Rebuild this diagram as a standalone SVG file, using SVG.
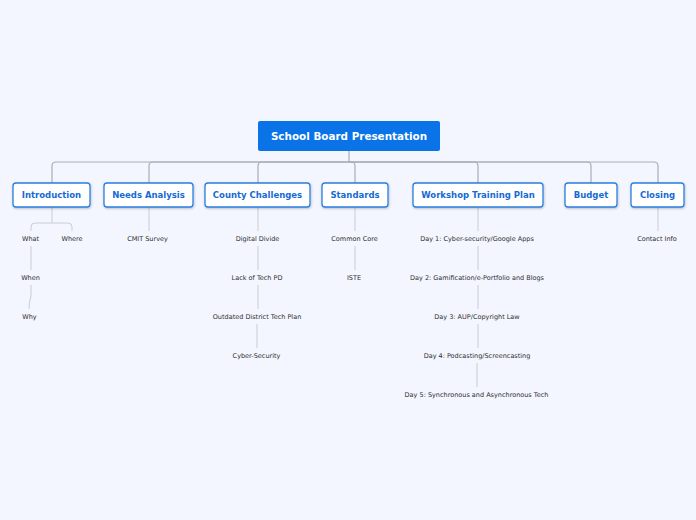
<svg xmlns="http://www.w3.org/2000/svg" width="696" height="520" viewBox="0 0 696 520">
<defs>
<style>
.bg{fill:#f3f6fe}
.root rect{fill:#0a73e8}
.root text{fill:#fff;font-family:"DejaVu Sans",sans-serif;font-weight:bold;font-size:10.4px;text-anchor:middle}
.main rect{fill:#fff;stroke:#2a7ee0;stroke-width:1.3}
.main text{fill:#166ad4;font-family:"DejaVu Sans",sans-serif;font-weight:bold;font-size:8.5px;text-anchor:middle}
.sub text{fill:#2e2e2e;font-family:"DejaVu Sans",sans-serif;font-size:6.5px;text-anchor:middle}
.c1{fill:none;stroke:#a9adb5;stroke-width:1.2}
.c2{fill:none;stroke:#c8ccd4;stroke-width:1}
</style>
<filter id="sh" x="-10%" y="-20%" width="130%" height="160%">
<feDropShadow dx="0.5" dy="1" stdDeviation="0.8" flood-color="#000" flood-opacity="0.25"/>
</filter>
</defs>
<rect class="bg" width="696" height="520"/>
<g id="connectors">
<path class="c1" d="M349,151V162H56Q52,162 52,166V183"/>
<path class="c1" d="M349,162H153Q149,162 149,166V183"/>
<path class="c1" d="M349,162H262Q258,162 258,166V183"/>
<path class="c1" d="M349,162H351Q355,162 355,166V183"/>
<path class="c1" d="M349,162H474Q478,162 478,166V183"/>
<path class="c1" d="M349,162H587Q591,162 591,166V183"/>
<path class="c1" d="M349,162H654Q658,162 658,166V183"/>
<path class="c2" d="M52,207V223H35Q31,223 31,227V231"/>
<path class="c2" d="M52,223H68Q72,223 72,227V231"/>
<path class="c2" d="M31,246V270"/>
<path class="c2" d="M31,285V296Q29,302 29,309"/>
<path class="c2" d="M149,207V231"/>
<path class="c2" d="M258,207V231"/>
<path class="c2" d="M258,246V270"/>
<path class="c2" d="M258,285V309"/>
<path class="c2" d="M257,324V348"/>
<path class="c2" d="M355,207V231"/>
<path class="c2" d="M355,246V270"/>
<path class="c2" d="M478,207V231"/>
<path class="c2" d="M478,246V270"/>
<path class="c2" d="M478,285V309"/>
<path class="c2" d="M478,324V348"/>
<path class="c2" d="M477,363V387"/>
<path class="c2" d="M658,207V231"/>
</g>
<g id="root" class="root"><rect x="258" y="121" width="182" height="30" rx="2"/><text x="349" y="139.6">School Board Presentation</text></g>
<g id="introduction" class="main"><rect x="13" y="183" width="77" height="24" rx="3" filter="url(#sh)"/><text x="51.5" y="198">Introduction</text></g>
<g id="needs-analysis" class="main"><rect x="104" y="183" width="89" height="24" rx="3" filter="url(#sh)"/><text x="148.5" y="198">Needs Analysis</text></g>
<g id="county-challenges" class="main"><rect x="205" y="183" width="105" height="24" rx="3" filter="url(#sh)"/><text x="257.5" y="198">County Challenges</text></g>
<g id="standards" class="main"><rect x="322" y="183" width="66" height="24" rx="3" filter="url(#sh)"/><text x="355" y="198">Standards</text></g>
<g id="workshop" class="main"><rect x="413" y="183" width="130" height="24" rx="3" filter="url(#sh)"/><text x="478" y="198">Workshop Training Plan</text></g>
<g id="budget" class="main"><rect x="565" y="183" width="52" height="24" rx="3" filter="url(#sh)"/><text x="591" y="198">Budget</text></g>
<g id="closing" class="main"><rect x="631" y="183" width="53" height="24" rx="3" filter="url(#sh)"/><text x="657.5" y="198">Closing</text></g>
<g id="what" class="sub"><text x="30.5" y="241">What</text></g>
<g id="where" class="sub"><text x="72" y="241">Where</text></g>
<g id="when" class="sub"><text x="30.5" y="280">When</text></g>
<g id="why" class="sub"><text x="29.5" y="319">Why</text></g>
<g id="cmit" class="sub"><text x="147.5" y="241">CMIT Survey</text></g>
<g id="digital-divide" class="sub"><text x="257.5" y="241">Digital Divide</text></g>
<g id="lack-pd" class="sub"><text x="257" y="280">Lack of Tech PD</text></g>
<g id="outdated" class="sub"><text x="257" y="319">Outdated District Tech Plan</text></g>
<g id="cyber" class="sub"><text x="256.5" y="358">Cyber-Security</text></g>
<g id="common-core" class="sub"><text x="354.5" y="241">Common Core</text></g>
<g id="iste" class="sub"><text x="354" y="280">ISTE</text></g>
<g id="day1" class="sub"><text x="477" y="241">Day 1: Cyber-security/Google Apps</text></g>
<g id="day2" class="sub"><text x="477" y="280">Day 2: Gamification/e-Portfolio and Blogs</text></g>
<g id="day3" class="sub"><text x="477" y="319">Day 3: AUP/Copyright Law</text></g>
<g id="day4" class="sub"><text x="477" y="358">Day 4: Podcasting/Screencasting</text></g>
<g id="day5" class="sub"><text x="476.5" y="397">Day 5: Synchronous and Asynchronous Tech</text></g>
<g id="contact" class="sub"><text x="657" y="241">Contact Info</text></g>
</svg>
